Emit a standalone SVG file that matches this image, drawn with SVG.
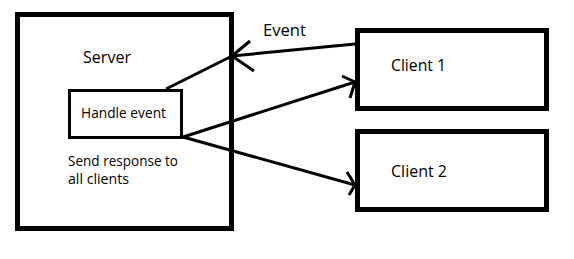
<svg xmlns="http://www.w3.org/2000/svg" width="574" height="259" viewBox="0 0 574 259">
  <style>
    .box { fill: #fff; stroke: #000; }
    .thick { stroke-width: 5; }
    .thin { stroke-width: 3; }
    .wire { fill: none; stroke: #000; stroke-width: 3; stroke-linecap: butt; stroke-linejoin: miter; }
    text { font-family: "Open Sans", "Noto Sans", sans-serif; font-size: 16px; fill: #000; }
    .small { font-size: 14px; }
  </style>
  <rect width="574" height="259" fill="#fff"/>

  <g id="server">
    <rect class="box thick" x="17.5" y="14.5" width="214" height="214"/>
    <text x="83" y="63" textLength="48" lengthAdjust="spacingAndGlyphs">Server</text>
    <text class="small" x="68" y="166" textLength="110" lengthAdjust="spacingAndGlyphs">Send response to</text>
    <text class="small" x="68" y="184" textLength="61" lengthAdjust="spacingAndGlyphs">all clients</text>
  </g>

  <g id="handle-event">
    <rect class="box thin" x="69.5" y="90.5" width="112" height="47"/>
    <text class="small" x="81" y="118" textLength="85" lengthAdjust="spacingAndGlyphs">Handle event</text>
  </g>

  <g id="client-1">
    <rect class="box thick" x="357.5" y="30.5" width="189" height="78"/>
    <text x="391" y="71" textLength="55" lengthAdjust="spacingAndGlyphs">Client 1</text>
  </g>

  <g id="client-2">
    <rect class="box thick" x="357.5" y="131.5" width="189" height="78"/>
    <text x="391" y="177" textLength="56" lengthAdjust="spacingAndGlyphs">Client 2</text>
  </g>

  <g id="connectors">
    <!-- event sent by client 1 to the server -->
    <line class="wire" x1="355" y1="44" x2="232" y2="56"/>
    <polyline class="wire" points="250,41 232,56 254,71"/>
    <!-- handle event up to the server edge -->
    <line class="wire" x1="166" y1="89" x2="232" y2="56"/>
    <!-- responses to the clients -->
    <line class="wire" x1="183" y1="137" x2="355" y2="82"/>
    <polyline class="wire" points="342,76 355,82 350,98"/>
    <line class="wire" x1="183" y1="137" x2="355" y2="185"/>
    <polyline class="wire" points="347,172 355,185 349,195"/>
    <text x="263" y="36" textLength="43" lengthAdjust="spacingAndGlyphs">Event</text>
  </g>
</svg>
